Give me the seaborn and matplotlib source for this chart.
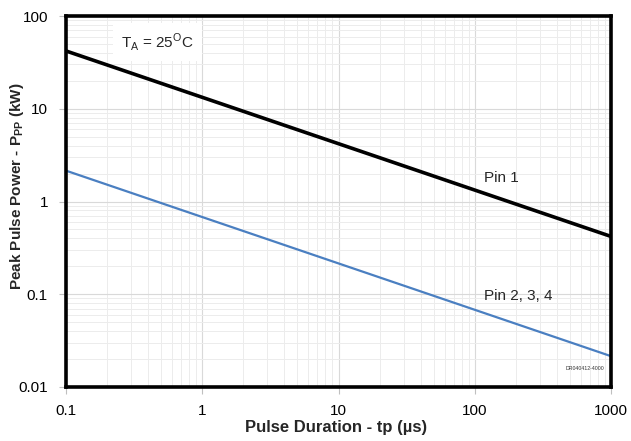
import matplotlib
matplotlib.use("Agg")
import matplotlib.pyplot as plt
import seaborn as sns
import pandas as pd
from matplotlib.ticker import LogLocator, FixedLocator, FixedFormatter, NullFormatter

tp = [0.1, 1000]
pin1 = [42, 0.42]
pin234 = [2.15, 0.0215]
x_ticks = [0.1, 1, 10, 100, 1000]
x_labels = ["0.1", "1", "10", "100", "1000"]
y_ticks = [0.01, 0.1, 1, 10, 100]
y_labels = ["0.01", "0.1", "1", "10", "100"]

sns.set_theme(style="white")
plt.rcParams['font.family'] = ['Liberation Sans', 'DejaVu Sans']
plt.rcParams['mathtext.fontset'] = 'custom'
plt.rcParams['mathtext.rm'] = 'Liberation Sans'
plt.rcParams['mathtext.bf'] = 'Liberation Sans:bold'

fig = plt.figure(figsize=(6.31, 4.41), dpi=100)
ax = fig.add_axes([66/631, 1-387/441, 545/631, 371/441])

df1 = pd.DataFrame({"tp": tp, "P": pin1})
df2 = pd.DataFrame({"tp": tp, "P": pin234})
sns.lineplot(data=df1, x="tp", y="P", ax=ax, color="black", linewidth=2.6)
sns.lineplot(data=df2, x="tp", y="P", ax=ax, color="#4a7fc1", linewidth=1.6)

ax.set_xscale("log")
ax.set_yscale("log")
ax.set_xlim(0.1, 1000)
ax.set_ylim(0.01, 100)

ax.xaxis.set_major_locator(FixedLocator(x_ticks))
ax.xaxis.set_major_formatter(FixedFormatter(x_labels))
ax.yaxis.set_major_locator(FixedLocator(y_ticks))
ax.yaxis.set_major_formatter(FixedFormatter(y_labels))
ax.xaxis.set_minor_locator(LogLocator(base=10, subs=range(2, 10), numticks=20))
ax.yaxis.set_minor_locator(LogLocator(base=10, subs=range(2, 10), numticks=20))
ax.xaxis.set_minor_formatter(NullFormatter())
ax.yaxis.set_minor_formatter(NullFormatter())

ax.grid(True, which="major", color="#d9d9d9", linewidth=0.8)
ax.grid(True, which="minor", color="#ececec", linewidth=0.7)
ax.set_axisbelow(True)

ax.tick_params(axis="both", which="major", length=5, width=0.8, color="#bfbfbf",
               direction="out", labelsize=11, labelcolor="black",
               bottom=True, left=True)
ax.tick_params(axis="x", which="major", pad=7)
ax.tick_params(axis="y", which="major", pad=8)
ax.tick_params(axis="both", which="minor", length=0)

for s in ax.spines.values():
    s.set_color("black")
    s.set_linewidth(2.6)

ax.set_xlabel("Pulse Duration - tp (µs)", fontsize=12, fontweight="bold")
ax.set_ylabel(r"Peak Pulse Power - P$_\mathbf{PP}$ (kW)", fontsize=11, fontweight="bold")
ax.xaxis.set_label_coords(0.496, -0.09)
ax.yaxis.set_label_coords(-0.073, 0.542)

ax.text(0.471, 52.4, r"T$_\mathregular{A}$ = 25$^\mathregular{O}$C", fontsize=11, ha="center", va="center",
        bbox=dict(facecolor="white", edgecolor="none", pad=6))
ax.text(116, 1.79, "Pin 1", fontsize=11, ha="left", va="center")
ax.text(116, 0.096, "Pin 2, 3, 4", fontsize=11, ha="left", va="center")
ax.text(895, 0.016, "DR040412-4000", fontsize=3.8, ha="right", va="center", color="#333333")

fig.savefig("out.png", dpi=100)
